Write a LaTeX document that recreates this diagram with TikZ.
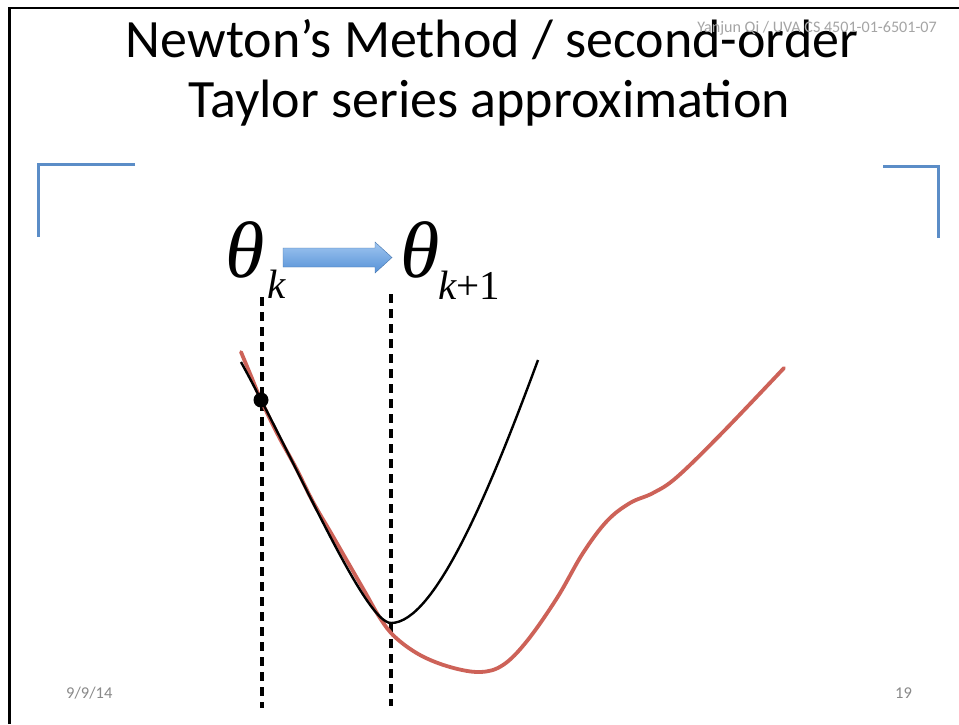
\documentclass[tikz,border=0pt]{standalone}
\usepackage{fontspec}
\setmainfont{Carlito}
\newfontfamily\timesf{Liberation Serif}
\definecolor{bracketblue}{RGB}{91,141,199}
\definecolor{curvered}{RGB}{205,98,88}
\definecolor{footgray}{RGB}{137,137,137}
\definecolor{headgray}{RGB}{165,165,165}
\definecolor{arrowtop}{RGB}{160,198,240}
\definecolor{arrowbot}{RGB}{85,145,215}
\begin{document}
\begin{tikzpicture}[x=1pt,y=-1pt,
  bracket/.style={draw=bracketblue,line width=3pt},
  guide/.style={draw=black,line width=3.2pt,dash pattern=on 9pt off 6pt},
  footer/.style={text=footgray,font=\fontsize{16.5}{18}\selectfont,inner sep=0pt,anchor=west},
  titletext/.style={font=\fontsize{54}{60}\selectfont,inner sep=0pt,anchor=base},
  bigtheta/.style={font=\timesf\itshape\fontsize{80}{80}\selectfont,inner sep=0pt,anchor=base west},
  subscr/.style={font=\timesf\fontsize{41}{41}\selectfont,inner sep=0pt,anchor=base west}]
\useasboundingbox (0,0) rectangle (959,724);
\fill[white] (0,0) rectangle (959,724);
% frame
\draw[line width=2.6pt] (9.5,724) -- (9.5,8) -- (959,8);
% title
\node[titletext] (title1) at (492,57) {Newton’s Method / second-order};
\node[titletext] (title2) at (489,117) {Taylor series approximation};
\node[text=headgray,font=\fontsize{16.1}{18}\selectfont,inner sep=0pt,anchor=east] (hdr) at (937,28)
  {Yanjun Qi / UVA CS 4501-01-6501-07};
% corner brackets
\draw[bracket] (135,164) -- (38,164) -- (38,237);
\draw[bracket] (883,166) -- (938,166) -- (938,238);
% thetas
\node[bigtheta] (thk) at (225,277) {θ};
\node[subscr] (subk) at (267,298) {\itshape k};
\node[bigtheta] (thk1) at (400,277) {θ};
\node[subscr] (subk1) at (438,299) {{\itshape k}+1};
% block arrow
\shade[top color=arrowtop,bottom color=arrowbot,draw=arrowbot!80!black,line width=0.4pt]
  (283,248) -- (375,248) -- (375,242) -- (392,257.5) -- (375,273) -- (375,267) -- (283,267) -- cycle;
% dashed guides
\coordinate (gk0) at (262,297);
\coordinate (gk1) at (262,708);
\coordinate (gn0) at (391,294);
\coordinate (gn1) at (391,706);
\draw[guide] (gk0) -- (gk1);
\draw[guide] (gn0) -- (gn1);
% true function (red)
\draw[curvered,line width=3.8pt,line cap=round] plot[smooth,tension=0.6] coordinates {
  (241,352) (251,376) (261,400) (278,435) (296,468) (313,502) (331,533) (350,566)
  (365,592) (380,618) (395,637) (420,655) (450,667) (480,672) (503,665) (527,641)
  (557,598) (583,553) (607,521) (630,503) (653,493) (677,477) (723,432) (784,368)};
% quadratic approximation (black)
\coordinate (bstart) at (241,362);
\coordinate (bvertex) at (391,623);
\coordinate (bend) at (538,360);
\draw[black,line width=2.4pt] (bstart) .. controls (300,470) and (365,623) .. (bvertex)
  .. controls (435,623) and (490,490) .. (bend);
% current point
\fill[black] (261,400) circle (7.5);
% footers
\node[footer] (date) at (66,693) {9/9/14};
\node[footer] (page) at (895,693) {19};
\end{tikzpicture}
\end{document}
